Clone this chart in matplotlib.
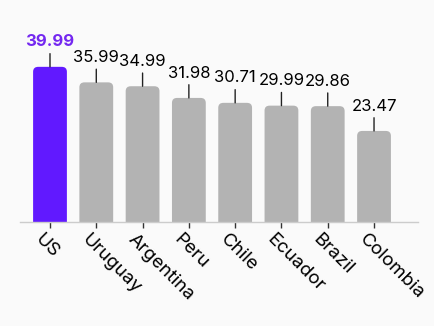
import numpy as np
import matplotlib.pyplot as plt
from matplotlib.patches import FancyBboxPatch

countries = ['US', 'Uruguay', 'Argentina', 'Peru', 'Chile', 'Ecuador', 'Brazil', 'Colombia']
values = [39.99, 35.99, 34.99, 31.98, 30.71, 29.99, 29.86, 23.47]
labels = ['39.99', '35.99', '34.99', '31.98', '30.71', '29.99', '29.86', '23.47']
highlight = 'US'

plt.rcParams['font.family'] = ['Inter', 'DejaVu Sans']

bg = '#fafafa'
purple = '#6119ff'
gray = '#b3b3b3'

fig = plt.figure(figsize=(4.34, 3.26), dpi=100, facecolor=bg)
ax = fig.add_axes([20/434, 104/326, 398/434, 194/326], facecolor=bg)

x = np.arange(len(countries))
w = 0.73
ax.set_xlim(-0.648, 7.95)
ax.set_ylim(0, 50)

for xi, c, v, lab in zip(x, countries, values, labels):
    col = purple if c == highlight else gray
    # rounded top bar, bottom pushed below 0 so corners are clipped
    p = FancyBboxPatch((xi - w/2, -3), w, v + 3,
                       boxstyle='round,pad=0,rounding_size=0.11',
                       mutation_aspect=11.5, fc=col, ec='none')
    ax.add_patch(p)
    ax.annotate('', xy=(xi, v), xytext=(0, 9.5), textcoords='offset points',
                arrowprops=dict(arrowstyle='-', color='#222222', lw=1,
                                shrinkA=0, shrinkB=0), annotation_clip=False)
    ax.annotate(lab, xy=(xi, v), xytext=(0, 12.5), textcoords='offset points',
                ha='center', va='bottom', fontsize=12,
                color='#7428f0' if c == highlight else 'black',
                fontweight='bold' if c == highlight else 'normal',
                annotation_clip=False)
    # category label, rotated
    ax.annotate(c, xy=(xi, 0), xytext=(-4.3, -6.5), textcoords='offset points',
                rotation=-45, ha='left', va='top', rotation_mode='anchor',
                fontsize=13.5, color='black', annotation_clip=False)

ax.set_xticks(x)
ax.set_xticklabels([])
ax.tick_params(axis='x', length=4, width=1, color='#333333')
ax.set_yticks([])
for s in ['left', 'right', 'top']:
    ax.spines[s].set_visible(False)
ax.spines['bottom'].set_color('#cccccc')
ax.spines['bottom'].set_linewidth(1)

plt.savefig('out.png', facecolor=bg)
